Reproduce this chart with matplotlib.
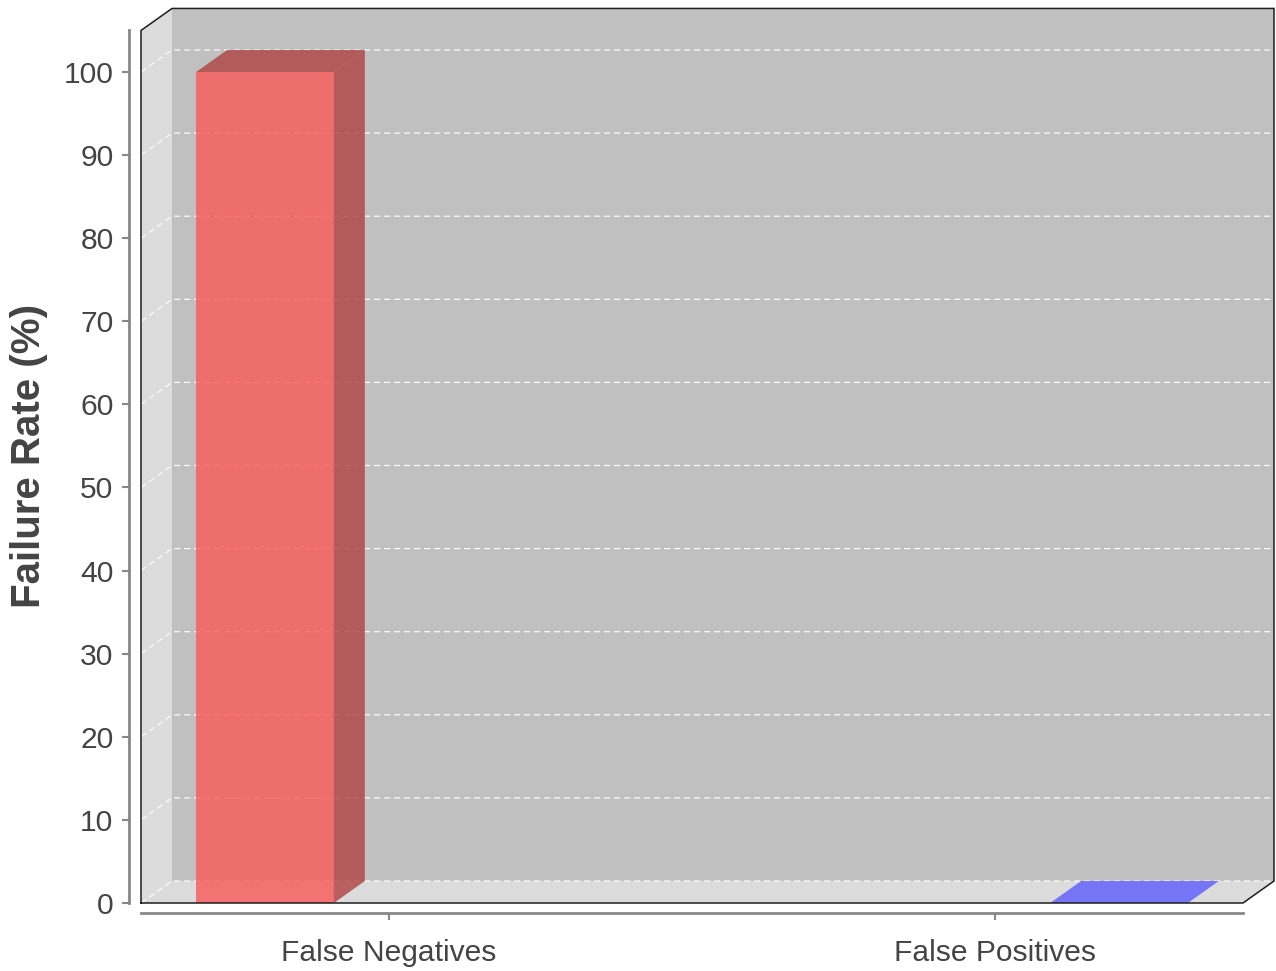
import matplotlib
matplotlib.use("Agg")
import matplotlib.pyplot as plt
from matplotlib.patches import Polygon, Rectangle

# ---- data ----
categories = ["False Negatives", "False Positives"]
series_names = ["False Negatives", "False Positives"]
series_values = [100, 0]
y_ticks = [0, 10, 20, 30, 40, 50, 60, 70, 80, 90, 100]
y_label = "Failure Rate (%)"

# ---- layout ----
W, H = 1276, 971
fig = plt.figure(figsize=(W / 100, H / 100), dpi=100)
L, R, B = 141, 1243, 903
YMAX = 105
px_per_unit = 8.31
T = B - px_per_unit * YMAX
ax = fig.add_axes([L / W, 1 - B / H, (R - L) / W, (B - T) / H])
ax.set_xlim(0, 2)
ax.set_ylim(0, YMAX)
ax.set_facecolor("none")

DX = 31 / (R - L) * 2
DY = 22 / (B - T) * YMAX

# walls and floor
ax.add_patch(Rectangle((DX, DY), 2, YMAX, fc="#c0c0c0", ec="none", zorder=0, clip_on=False))
ax.add_patch(Polygon([(0, 0), (DX, DY), (DX, YMAX + DY), (0, YMAX)], closed=True,
                     fc="#dcdcdc", ec="none", zorder=0, clip_on=False))
ax.add_patch(Polygon([(0, 0), (2, 0), (2 + DX, DY), (DX, DY)], closed=True,
                     fc="#dcdcdc", ec="none", zorder=0, clip_on=False))

# grid lines
for v in y_ticks:
    ax.plot([0, DX, 2 + DX], [v, v + DY, v + DY], color="#fafafa", lw=0.9,
            dashes=(5, 3), zorder=1, clip_on=False)

# frame edges
ax.plot([0, 0, DX, 2 + DX, 2 + DX, 2, 0], [0, YMAX, YMAX + DY, YMAX + DY, DY, 0, 0],
        color="#1e1e1e", lw=1.1, zorder=5, clip_on=False, solid_joinstyle="miter")

# bars (clustered, 3D)
bar_left = [0.10, 1.65]
bar_w = 0.25
front_cols = [(250 / 255, 88 / 255, 88 / 255), (92 / 255, 92 / 255, 252 / 255)]
side_cols = [(176 / 255, 65 / 255, 65 / 255), (60 / 255, 60 / 255, 180 / 255)]
top_cols = [(176 / 255, 65 / 255, 65 / 255), (92 / 255, 92 / 255, 252 / 255)]
alpha = 0.8
for i, (name, v) in enumerate(zip(series_names, series_values)):
    x0 = bar_left[i]
    x1 = x0 + bar_w
    ax.add_patch(Rectangle((x0, 0), bar_w, v, fc=front_cols[i], alpha=alpha, ec="none",
                           zorder=3, clip_on=False))
    ax.add_patch(Polygon([(x1, 0), (x1 + DX, DY), (x1 + DX, v + DY), (x1, v)], closed=True,
                         fc=side_cols[i], alpha=alpha, ec="none", zorder=3, clip_on=False))
    ax.add_patch(Polygon([(x0, v), (x1, v), (x1 + DX, v + DY), (x0 + DX, v + DY)], closed=True,
                         fc=top_cols[i], alpha=alpha, ec="none", zorder=3, clip_on=False))

# axes
for s in ["top", "right"]:
    ax.spines[s].set_visible(False)
ax.spines["left"].set_position(("outward", 8.3))
ax.spines["bottom"].set_position(("outward", 7.2))
for s in ["left", "bottom"]:
    ax.spines[s].set_color("#888888")
    ax.spines[s].set_linewidth(2.0)

ax.set_yticks(y_ticks)
ax.set_yticklabels([str(t) for t in y_ticks])
ax.set_xticks([0.45, 1.55])
ax.set_xticklabels(categories)
ax.tick_params(axis="both", colors="#888888", length=5, width=1.5, labelcolor="#444444",
               labelsize=21.6)
ax.tick_params(axis="y", pad=6.5)
ax.tick_params(axis="x", pad=14)
for lab in ax.get_xticklabels() + ax.get_yticklabels():
    lab.set_fontfamily("Liberation Sans")

fig.text(29 / W, 1 - 456 / H, y_label, rotation=90, ha="center", va="center",
         fontsize=29, fontweight="bold", color="#444444", family="Liberation Sans")

fig.savefig("out.png", dpi=100)
